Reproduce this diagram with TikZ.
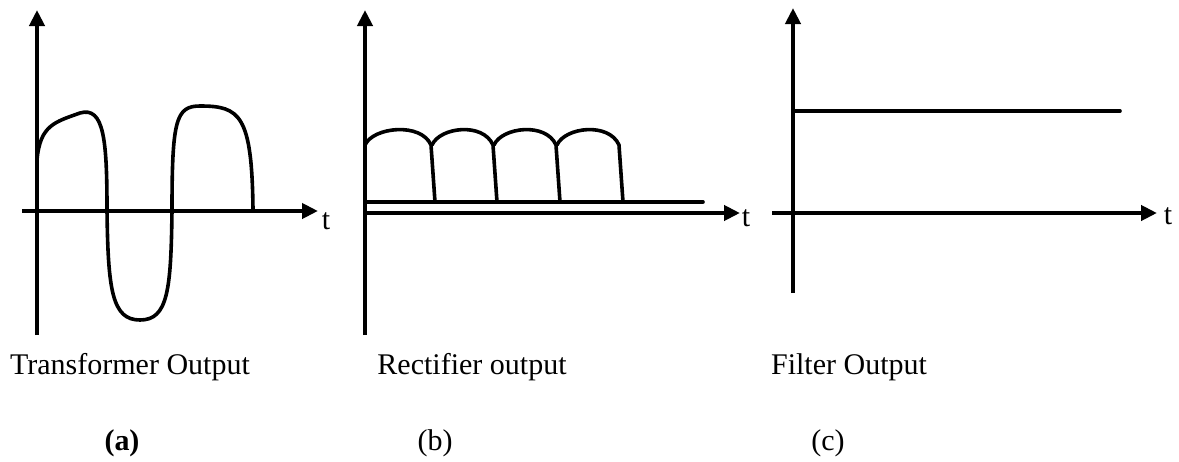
\documentclass[tikz,border=0pt]{standalone}
\usepackage{fontspec}
\setmainfont{Liberation Serif}
\usetikzlibrary{arrows.meta}

\begin{document}
\begin{tikzpicture}[x=0.5pt,y=-0.5pt,
		axis/.style={line width=2.2pt,-{Triangle[length=8pt,width=7.5pt]}},
		wave/.style={line width=1.8pt,line join=round,line cap=round},
		lab/.style={font=\fontsize{15}{18}\selectfont}]
		
		\useasboundingbox (0,0) rectangle (1179,461);
		
		% axes
		\coordinate (ya0) at (37,335);  \coordinate (ya1) at (37,10);
		\coordinate (xa0) at (22,211);  \coordinate (xa1) at (318,211);
		\coordinate (yb0) at (365,335); \coordinate (yb1) at (365,10);
		\coordinate (xb0) at (365,213); \coordinate (xb1) at (740,213);
		\coordinate (yc0) at (793,293); \coordinate (yc1) at (793,8);
		\coordinate (xc0) at (772,213); \coordinate (xc1) at (1157,213);
		
		\foreach \p in {a,b,c}
		{
			\draw[axis] (y\p0)--(y\p1);
			\draw[axis] (x\p0)--(x\p1);
		}
		
		\node[lab] (ta) at (326,221) {t};
		\node[lab] (tb) at (746,218) {t};
		\node[lab] (tc) at (1168,216) {t};
		
		% transformer output
		\draw[wave] (37,160) .. controls (40,125) and (55,122) .. (80,113)
			.. controls (104,106) and (107,140) .. (107,210)
			.. controls (108,290) and (112,320) .. (140,320)
			.. controls (168,320) and (171,290) .. (172,210)
			.. controls (172,120) and (176,106) .. (200,106)
			.. controls (240,106) and (252,115) .. (253,210);
		
		% rectifier output
		\draw[wave] (365,202)--(703,202);
		\draw[wave] (365,202)--(365,145);
		\foreach \a/\b in {365/435, 432/497, 494/560, 557/623}
			\draw[wave] (\a,145) .. controls (\a+8,127) and (\b-14,122) .. (\b-4,145) -- (\b,202);
		
		% filter output
		\draw[wave] (793,111)--(1120,111);
		
		\node[lab] (la) at (130,367) {Transformer Output};
		\node[lab] (lb) at (472,367) {Rectifier output};
		\node[lab] (lc) at (849,367) {Filter Output};
		
		\node[lab,font=\fontsize{15}{18}\selectfont\bfseries] (na) at (122,443) {(a)};
		\node[lab] (nb) at (435,443) {(b)};
		\node[lab] (nc) at (828,443) {(c)};
		
	\end{tikzpicture}
\end{document}
